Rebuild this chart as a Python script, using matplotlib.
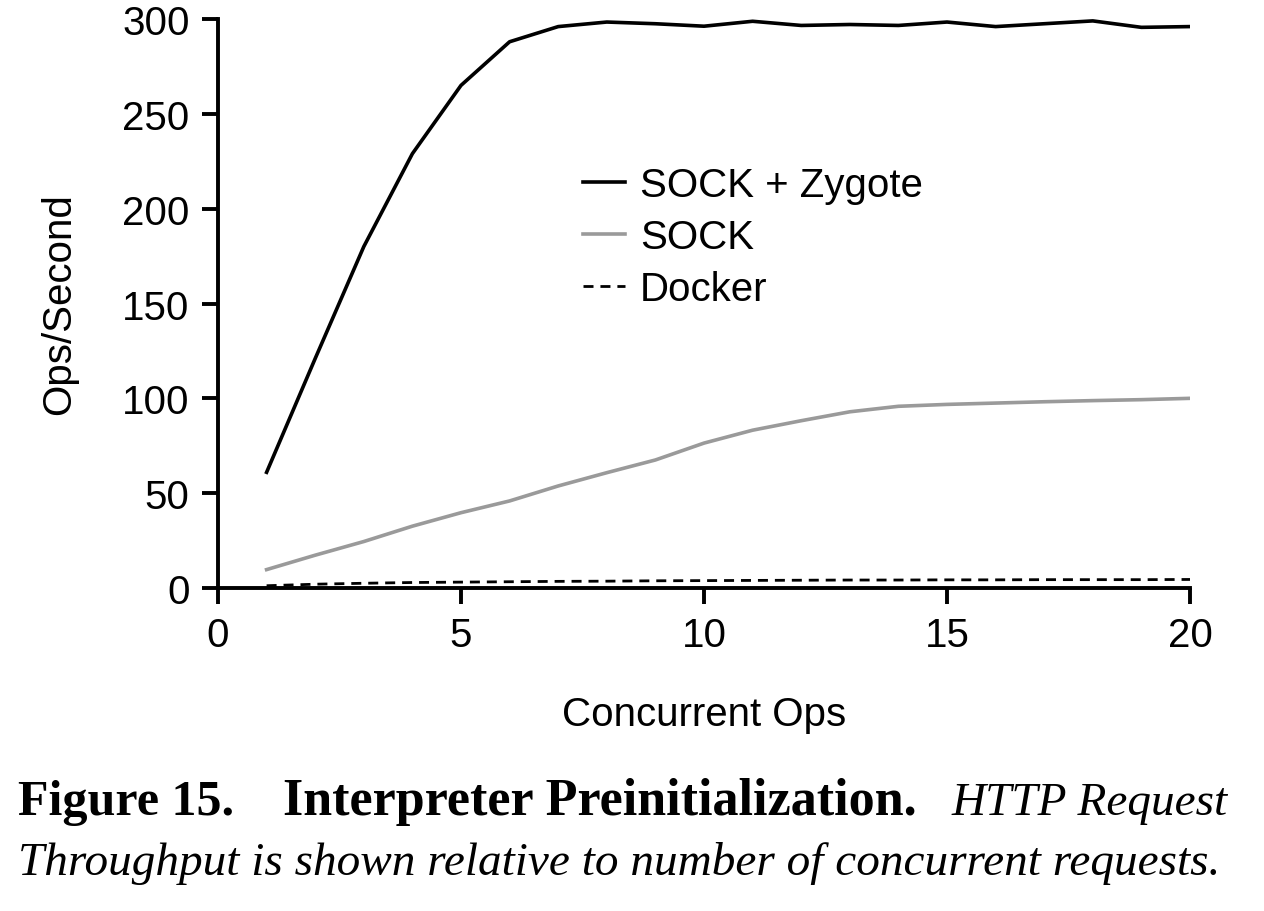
import matplotlib
matplotlib.use("Agg")
import matplotlib.pyplot as plt

# data
concurrent = list(range(1, 21))
zygote = [61, 121, 180, 229, 265, 288, 296, 298.4, 297.5, 296.2, 298.8, 296.6,
          297.1, 296.6, 298.4, 296, 297.5, 299, 295.6, 296]
sock = [9.7, 17.3, 24.5, 32.6, 39.7, 45.9, 53.8, 60.8, 67.5, 76.4, 83.2, 88.2,
        92.9, 95.8, 96.8, 97.5, 98.2, 98.8, 99.3, 100]
docker = [1.2, 2.0, 2.5, 2.9, 3.1, 3.3, 3.5, 3.6, 3.8, 3.9, 4.0, 4.1, 4.2, 4.2,
          4.3, 4.3, 4.4, 4.4, 4.4, 4.5]
series_names = ["SOCK + Zygote", "SOCK", "Docker"]

plt.rcParams['font.family'] = ['Liberation Sans', 'DejaVu Sans']
fs = 29

W, H = 1264, 912
fig = plt.figure(figsize=(W / 100, H / 100), dpi=100)
ax = fig.add_axes([218 / W, 1 - 589 / H, 972 / W, 569 / H])

ax.plot(concurrent, zygote, color='black', lw=2.6, label=series_names[0])
ax.plot(concurrent, sock, color='#9a9a9a', lw=2.6, label=series_names[1])
ax.plot(concurrent, docker, color='black', lw=2.0, ls=(0, (3.6, 2.5)), label=series_names[2])

ax.set_xlim(0, 20)
ax.set_ylim(0, 300)
ax.set_xticks([0, 5, 10, 15, 20])
ax.set_yticks([0, 50, 100, 150, 200, 250, 300])
ax.spines['top'].set_visible(False)
ax.spines['right'].set_visible(False)
for s in ('left', 'bottom'):
    ax.spines[s].set_linewidth(2.8)
    ax.spines[s].set_clip_on(False)
ax.tick_params(width=2.8, length=11.5, labelsize=fs, pad=9)
ax.set_xlabel("Concurrent Ops", fontsize=fs)
ax.set_ylabel("Ops/Second", fontsize=fs)
ax.xaxis.set_label_coords(0.5, (589 - 696) / 569)
ax.yaxis.set_label_coords((78 - 218) / 972, 0.5)

leg = ax.legend(loc='upper left', bbox_to_anchor=((583 - 218) / 972, (589 - 167) / 569),
                frameon=False, fontsize=fs, borderpad=0, borderaxespad=0,
                handlelength=1.05, handletextpad=0.37, labelspacing=0.35)

serif = ['Liberation Serif', 'DejaVu Serif']
fig.text(18 / W, 1 - 815 / H, "Figure 15.", family=serif, weight='bold', fontsize=36)
fig.text(283 / W, 1 - 815 / H, "Interpreter Preinitialization.", family=serif,
         weight='bold', fontsize=37.5)
fig.text(952 / W, 1 - 815 / H, "HTTP Request", family=serif, style='italic', fontsize=34)
fig.text(18 / W, 1 - 875 / H,
         "Throughput is shown relative to number of concurrent requests.",
         family=serif, style='italic', fontsize=34)

fig.savefig("out.png", dpi=100)
